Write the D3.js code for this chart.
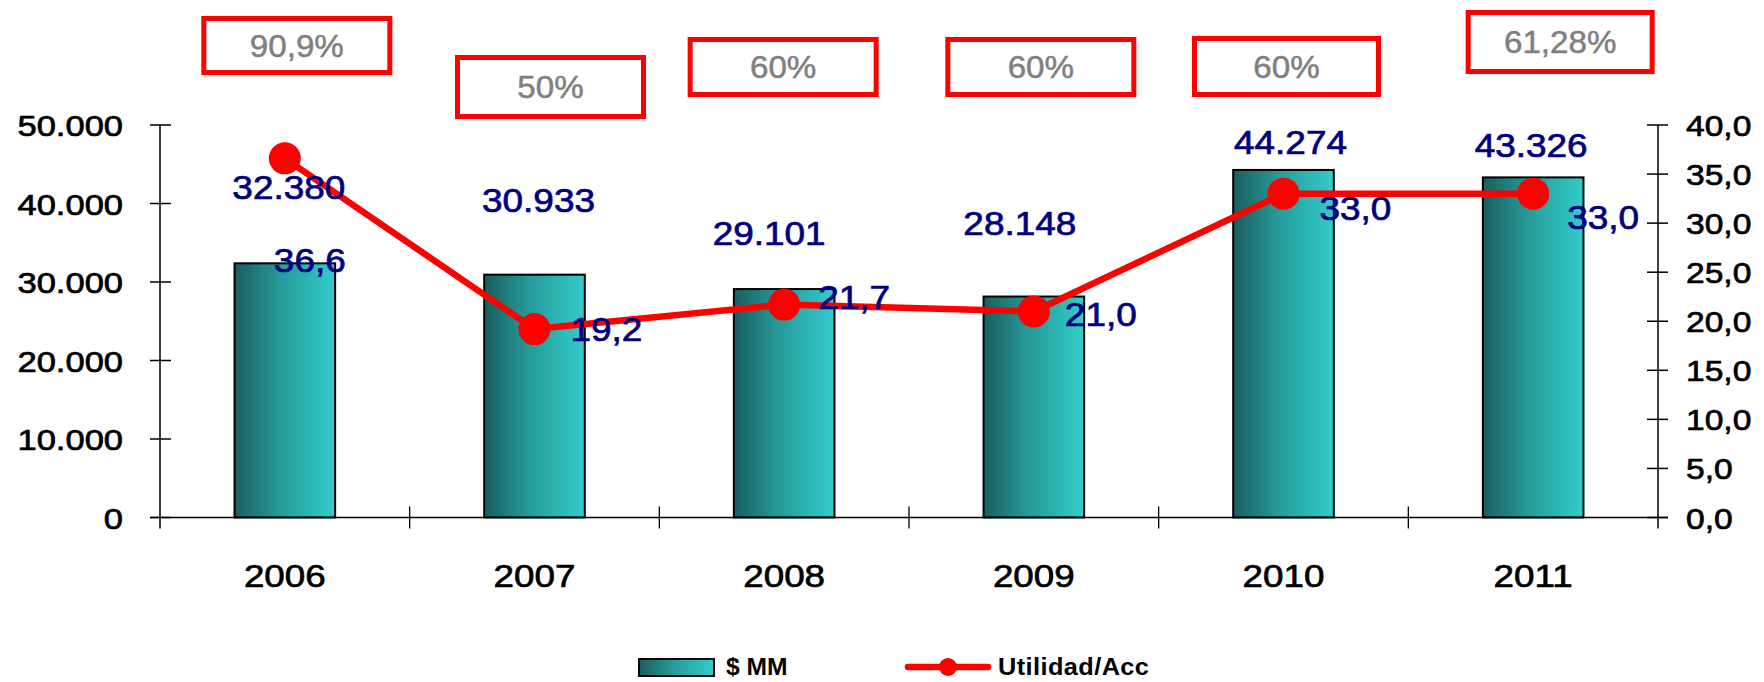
<!DOCTYPE html>
<html>
<head>
<meta charset="utf-8">
<script src="https://cdn.jsdelivr.net/npm/d3@7"></script>
<style>
  html, body { margin: 0; padding: 0; background: #ffffff; }
  svg { display: block; }
  text { font-family: "Liberation Sans", Arial, sans-serif; }
</style>
</head>
<body>
<svg id="chart" width="1764" height="682"></svg>
<script>
// Categories and series
const years = ["2006", "2007", "2008", "2009", "2010", "2011"];
const montoMM = [32380, 30933, 29101, 28148, 44274, 43326];      // $ MM (bars, left axis)
const utilidadAcc = [36.6, 19.2, 21.7, 21.0, 33.0, 33.0];         // Utilidad/Acc (line, right axis)
const payoutLabels = ["90,9%", "50%", "60%", "60%", "60%", "61,28%"];

// Axis ticks
const leftTicks = [0, 10000, 20000, 30000, 40000, 50000];
const rightTicks = [0, 5, 10, 15, 20, 25, 30, 35, 40];

// Legend entries
const seriesNames = ["$ MM", "Utilidad/Acc"];

// Hand-placed label offsets (px), per category
const barLabelDx = [4, 4, -15, -14, 7, -2];
const barLabelDy = [-64, -63, -44, -62, -16, -20];
const lineLabelDx = [-11, 36, 34, 31, 36, 34];
const lineLabelDy = [114, 12, 4, 15, 26, 35];
// Payout call-out boxes: centre offset from band centre, top, width, height
const boxDx = [12, 16, -1, 7, 3, 27];
const boxTop = [16, 55, 37, 37, 36, 10];
const boxW = [191, 191, 191, 191, 189, 189];
const boxH = [59, 64, 60, 60, 61, 64];

const locale = d3.formatLocale({ decimal: ",", thousands: ".", grouping: [3], currency: ["$", ""] });
const fmtInt = locale.format(",.0f");
const fmtDec = locale.format(".1f");

const SX = 1.12;   // horizontal glyph stretch used for all text
const svg = d3.select("#chart");

const plotL = 160, plotR = 1658, plotT = 125, plotB = 517.5;

const xOuter = d3.scaleBand().domain(years).range([plotL, plotR]).padding(0);
const x = d3.scaleBand().domain(years).range([plotL, plotR]).paddingInner(0.597).paddingOuter(0.2985);
const yL = d3.scaleLinear().domain([0, 50000]).range([plotB, plotT]);
const yR = d3.scaleLinear().domain([0, 40]).range([plotB, plotT]);
const cx = d => x(d) + x.bandwidth() / 2;

// Bar gradient
const defs = svg.append("defs");
const grad = defs.append("linearGradient").attr("id", "barGrad")
  .attr("x1", "0").attr("y1", "0").attr("x2", "1").attr("y2", "0");
grad.append("stop").attr("offset", "0").attr("stop-color", "#1a5e5e");
grad.append("stop").attr("offset", "0.45").attr("stop-color", "#269b99");
grad.append("stop").attr("offset", "1").attr("stop-color", "#33cccb");

function stext(g, px, py, str, opts) {
  const fill = opts.fill || "#000";
  const t = g.append("text")
    .attr("transform", `translate(${px},${py}) scale(${opts.sx || SX},1)`)
    .attr("font-size", opts.size)
    .attr("fill", fill)
    .attr("stroke", fill)
    .attr("stroke-width", opts.sw === undefined ? 0.7 : opts.sw)
    .attr("text-anchor", opts.anchor || "start")
    .text(str);
  if (opts.weight) t.attr("font-weight", opts.weight);
  if (opts.ls) t.attr("letter-spacing", opts.ls);
  return t;
}

// Bars
svg.append("g").selectAll("rect")
  .data(years)
  .join("rect")
  .attr("x", d => x(d))
  .attr("width", x.bandwidth())
  .attr("y", (d, i) => yL(montoMM[i]))
  .attr("height", (d, i) => plotB - yL(montoMM[i]))
  .attr("fill", "url(#barGrad)")
  .attr("stroke", "#000")
  .attr("stroke-width", 2);

// Axes
const axes = svg.append("g").attr("stroke", "#000").attr("stroke-width", 1.5).attr("fill", "none");
axes.append("line").attr("x1", plotL).attr("x2", plotL).attr("y1", plotT).attr("y2", plotB + 11);
axes.append("line").attr("x1", plotR).attr("x2", plotR).attr("y1", plotT).attr("y2", plotB + 11);
axes.append("line").attr("x1", plotL - 10).attr("x2", plotR + 10).attr("y1", plotB).attr("y2", plotB);
leftTicks.forEach(v => {
  axes.append("line").attr("x1", plotL - 10).attr("x2", plotL + 11).attr("y1", yL(v)).attr("y2", yL(v));
});
rightTicks.forEach(v => {
  axes.append("line").attr("x1", plotR - 11).attr("x2", plotR + 10).attr("y1", yR(v)).attr("y2", yR(v));
});
years.slice(1).forEach(d => {
  axes.append("line").attr("x1", xOuter(d)).attr("x2", xOuter(d))
    .attr("y1", plotB - 11).attr("y2", plotB + 11).attr("stroke-width", 1.3);
});

// Tick labels
const labels = svg.append("g");
leftTicks.forEach(v => stext(labels, 123, yL(v) + 11, fmtInt(v), { size: 30, anchor: "end", sx: 1.15 }));
rightTicks.forEach(v => stext(labels, 1686, yR(v) + 11, fmtDec(v), { size: 30 }));
years.forEach(d => stext(labels, cx(d), 587, d, { size: 32, anchor: "middle", sx: 1.15 }));

// Line series
const pts = years.map((d, i) => [cx(d), yR(utilidadAcc[i])]);
svg.append("path")
  .attr("d", d3.line()(pts))
  .attr("fill", "none")
  .attr("stroke", "#ff0000")
  .attr("stroke-width", 6.5)
  .attr("stroke-linejoin", "round");
svg.append("g").selectAll("circle")
  .data(pts)
  .join("circle")
  .attr("cx", p => p[0]).attr("cy", p => p[1]).attr("r", 16)
  .attr("fill", "#ff0000");

// Value labels
const vals = svg.append("g");
years.forEach((d, i) => {
  stext(vals, cx(d) + barLabelDx[i], yL(montoMM[i]) + barLabelDy[i], fmtInt(montoMM[i]),
    { size: 33, fill: "#000080", anchor: "middle" });
  stext(vals, cx(d) + lineLabelDx[i], yR(utilidadAcc[i]) + lineLabelDy[i], fmtDec(utilidadAcc[i]),
    { size: 33, fill: "#000080" });
});

// Payout call-out boxes
const boxes = svg.append("g");
years.forEach((d, i) => {
  const bx = cx(d) + boxDx[i] - boxW[i] / 2;
  boxes.append("rect")
    .attr("x", bx + 2.5).attr("y", boxTop[i] + 2.5)
    .attr("width", boxW[i] - 5).attr("height", boxH[i] - 5)
    .attr("fill", "#fff").attr("stroke", "#ff0000").attr("stroke-width", 5);
  stext(boxes, cx(d) + boxDx[i], boxTop[i] + boxH[i] / 2 + 11, payoutLabels[i],
    { size: 31, fill: "#808080", anchor: "middle", sx: 1.07, sw: 0.5 });
});

// Legend
const leg = svg.append("g");
leg.append("rect").attr("x", 639).attr("y", 659).attr("width", 75).attr("height", 17)
  .attr("fill", "url(#barGrad)").attr("stroke", "#000").attr("stroke-width", 2);
stext(leg, 726, 675, seriesNames[0], { size: 23, weight: "bold", sx: 1.07, sw: 0 });
leg.append("line").attr("x1", 908).attr("x2", 988).attr("y1", 667).attr("y2", 667)
  .attr("stroke", "#ff0000").attr("stroke-width", 6.5).attr("stroke-linecap", "round");
leg.append("circle").attr("cx", 948).attr("cy", 667).attr("r", 9).attr("fill", "#ff0000");
stext(leg, 998, 675, seriesNames[1], { size: 23, weight: "bold", sx: 1.1, ls: 0.4, sw: 0 });
</script>
</body>
</html>
